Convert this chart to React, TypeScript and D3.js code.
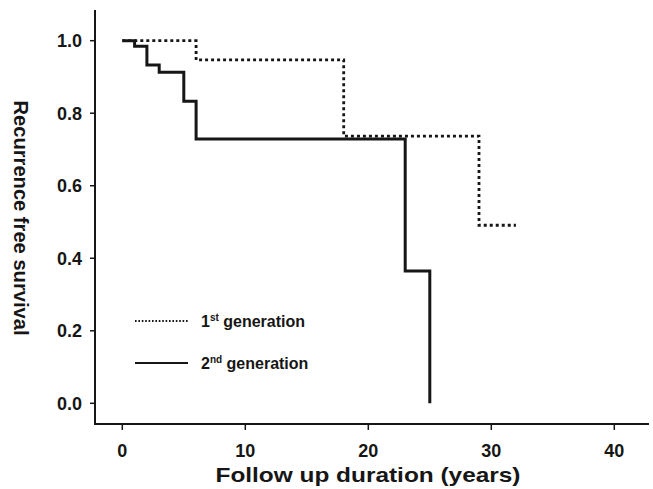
import React, { useEffect, useRef } from "react";
import * as d3 from "d3";

// Kaplan-Meier steps
const firstGenTimes = [0, 6, 18, 29, 32];
const firstGenSurv = [1.0, 0.947, 0.737, 0.491, 0.491];
const secondGenTimes = [0, 1, 2, 3, 5, 6, 23, 25];
const secondGenSurv = [1.0, 0.985, 0.933, 0.913, 0.833, 0.729, 0.365, 0.0];

const xTicks = [0, 10, 20, 30, 40];
const yTicks = [0, 0.2, 0.4, 0.6, 0.8, 1.0];
const legendLabels = [
  { pre: "1", sup: "st", rest: " generation", dotted: true },
  { pre: "2", sup: "nd", rest: " generation", dotted: false },
];

const W = 653;
const H = 489;
const FONT = "'Liberation Sans', Arial, sans-serif";
const INK = "#161616";

export default function App() {
  const svgRef = useRef<SVGSVGElement | null>(null);

  useEffect(() => {
    const svg = d3.select(svgRef.current);
    svg.selectAll("*").remove();

    const x = d3.scaleLinear().domain([0, 40]).range([122.3, 614.3]);
    const y = d3.scaleLinear().domain([0, 1]).range([403.3, 40.7]);

    const axisX = 95;
    const axisY = 424;

    // axis lines
    svg.append("line")
      .attr("x1", axisX).attr("x2", axisX).attr("y1", 10).attr("y2", axisY + 1)
      .attr("stroke", INK).attr("stroke-width", 2);
    svg.append("line")
      .attr("x1", axisX - 1).attr("x2", 649).attr("y1", axisY).attr("y2", axisY)
      .attr("stroke", INK).attr("stroke-width", 2);

    // y ticks
    const gy = svg.append("g");
    yTicks.forEach((t) => {
      gy.append("line")
        .attr("x1", axisX - 5).attr("x2", axisX).attr("y1", y(t)).attr("y2", y(t))
        .attr("stroke", INK).attr("stroke-width", 1.5);
      gy.append("text")
        .attr("x", 82).attr("y", y(t)).attr("dy", "0.36em")
        .attr("text-anchor", "end")
        .attr("font-family", FONT).attr("font-size", 18).attr("font-weight", "bold")
        .attr("fill", INK)
        .text(d3.format(".1f")(t));
    });

    // x ticks
    const gx = svg.append("g");
    xTicks.forEach((t) => {
      gx.append("line")
        .attr("x1", x(t)).attr("x2", x(t)).attr("y1", axisY).attr("y2", axisY + 6)
        .attr("stroke", INK).attr("stroke-width", 1.5);
      gx.append("text")
        .attr("x", x(t)).attr("y", 457)
        .attr("text-anchor", "middle")
        .attr("font-family", FONT).attr("font-size", 18).attr("font-weight", "bold")
        .attr("fill", INK)
        .text(t);
    });

    // axis titles
    svg.append("text")
      .attr("x", 368).attr("y", 482)
      .attr("text-anchor", "middle")
      .attr("font-family", FONT).attr("font-size", 21).attr("font-weight", "bold")
      .attr("fill", INK)
      .attr("textLength", 305).attr("lengthAdjust", "spacingAndGlyphs")
      .text("Follow up duration (years)");
    svg.append("text")
      .attr("transform", "translate(14,218) rotate(90)")
      .attr("text-anchor", "middle")
      .attr("font-family", FONT).attr("font-size", 21).attr("font-weight", "bold")
      .attr("fill", INK)
      .attr("textLength", 235).attr("lengthAdjust", "spacingAndGlyphs")
      .text("Recurrence free survival");

    const firstPts: [number, number][] = firstGenTimes.map((t, i) => [x(t), y(firstGenSurv[i])]);
    const secondPts: [number, number][] = secondGenTimes.map((t, i) => [x(t), y(secondGenSurv[i])]);
    const step = d3.line().curve(d3.curveStepAfter);

    svg.append("path")
      .attr("d", step(secondPts))
      .attr("fill", "none").attr("stroke", INK).attr("stroke-width", 3);
    svg.append("path")
      .attr("d", step(firstPts))
      .attr("fill", "none").attr("stroke", INK).attr("stroke-width", 2.8)
      .attr("stroke-dasharray", "3,3");

    // legend
    legendLabels.forEach((l, i) => {
      const ly = i === 0 ? 321 : 363;
      svg.append("line")
        .attr("x1", 135).attr("x2", 188).attr("y1", ly).attr("y2", ly)
        .attr("stroke", INK)
        .attr("stroke-width", 2)
        .attr("stroke-dasharray", l.dotted ? "1.6,1.8" : null);
      const txt = svg.append("text")
        .attr("x", 201).attr("y", ly + 5.5)
        .attr("font-family", FONT).attr("font-size", 16).attr("font-weight", "bold")
        .attr("fill", INK);
      txt.append("tspan").text(l.pre);
      txt.append("tspan").attr("dy", -6).attr("font-size", 10).text(l.sup);
      txt.append("tspan").attr("dy", 6).text(l.rest);
    });
  }, []);

  return (
    <svg
      ref={svgRef}
      width={W}
      height={H}
      style={{ position: "absolute", left: 0, top: 0, background: "#fff" }}
    />
  );
}
